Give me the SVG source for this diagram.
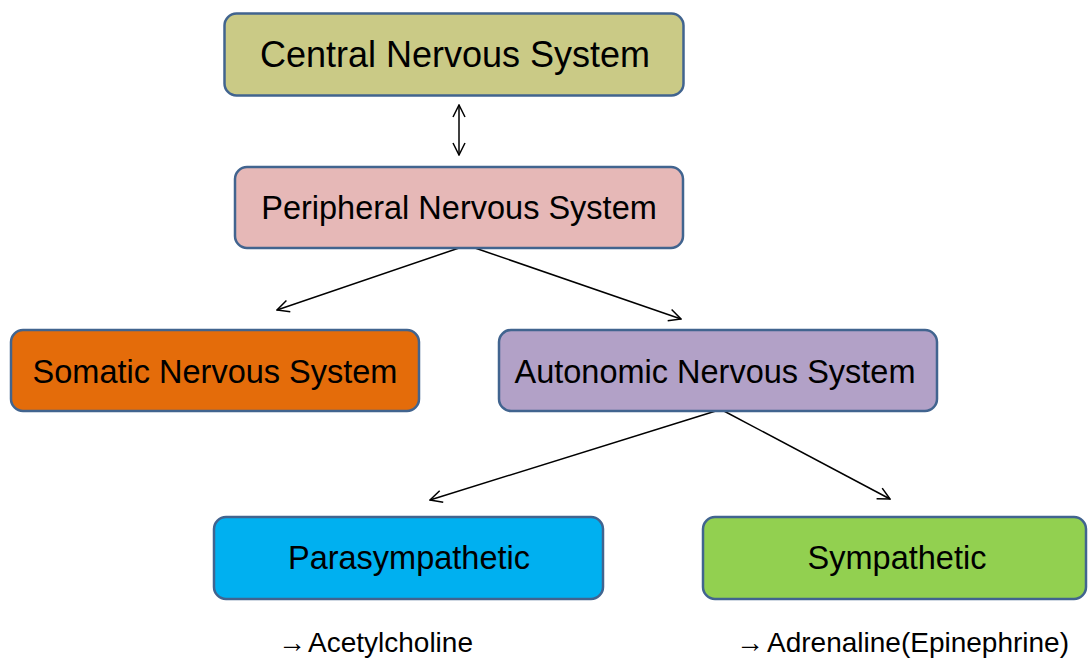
<svg xmlns="http://www.w3.org/2000/svg" width="1088" height="658" viewBox="0 0 1088 658">
<style>
.box{stroke:#41648F;stroke-width:2.5}
.t{font-family:"Liberation Sans",Arial,sans-serif;font-size:32.5px;fill:#000;text-anchor:middle}
.lbl{font-family:"Liberation Sans",Arial,sans-serif;font-size:28px;fill:#000}
.c{stroke:#000;stroke-width:1.5;fill:none;marker-end:url(#ah)}
</style>
<defs>
<marker id="ah" viewBox="0 0 14 14" refX="13" refY="7" markerWidth="14" markerHeight="14" markerUnits="userSpaceOnUse" orient="auto-start-reverse">
<path d="M1,1 L13,7 L1,13" fill="none" stroke="#000" stroke-width="1.5"/>
</marker>
</defs>
<rect width="1088" height="658" fill="#fff"/>
<g id="connectors">
<line class="c" x1="459" y1="105" x2="459" y2="155" style="marker-start:url(#ah)"/>
<line class="c" x1="459" y1="248" x2="277" y2="310"/>
<line class="c" x1="475" y1="248" x2="681" y2="319"/>
<line class="c" x1="719" y1="410" x2="430" y2="500"/>
<line class="c" x1="722" y1="410" x2="890" y2="499"/>
</g>
<g id="cns">
<rect class="box" x="224.5" y="13.5" width="459" height="82" rx="12" fill="#CACA86"/>
<text class="t" x="455" y="67" style="font-size:36px">Central Nervous System</text>
</g>
<g id="pns">
<rect class="box" x="235" y="167" width="448" height="81" rx="12" fill="#E6B8B7"/>
<text class="t" x="459" y="219">Peripheral Nervous System</text>
</g>
<g id="somatic">
<rect class="box" x="11" y="330" width="408" height="81" rx="12" fill="#E46C0A"/>
<text class="t" x="215" y="383">Somatic Nervous System</text>
</g>
<g id="autonomic">
<rect class="box" x="499" y="330" width="438" height="81" rx="12" fill="#B2A1C7"/>
<text class="t" x="715" y="383">Autonomic Nervous System</text>
</g>
<g id="parasympathetic">
<rect class="box" x="214" y="517" width="389" height="82" rx="12" fill="#00B0F0"/>
<text class="t" x="409" y="569">Parasympathetic</text>
</g>
<g id="sympathetic">
<rect class="box" x="703" y="517" width="383" height="82" rx="12" fill="#92D050"/>
<text class="t" x="897" y="569">Sympathetic</text>
</g>
<g id="labels">
<text class="lbl" x="278" y="652"><tspan font-size="28">→</tspan><tspan x="308">Acetylcholine</tspan></text>
<text class="lbl" x="736" y="652"><tspan font-size="28">→</tspan><tspan x="767">Adrenaline(Epinephrine)</tspan></text>
</g>
</svg>
